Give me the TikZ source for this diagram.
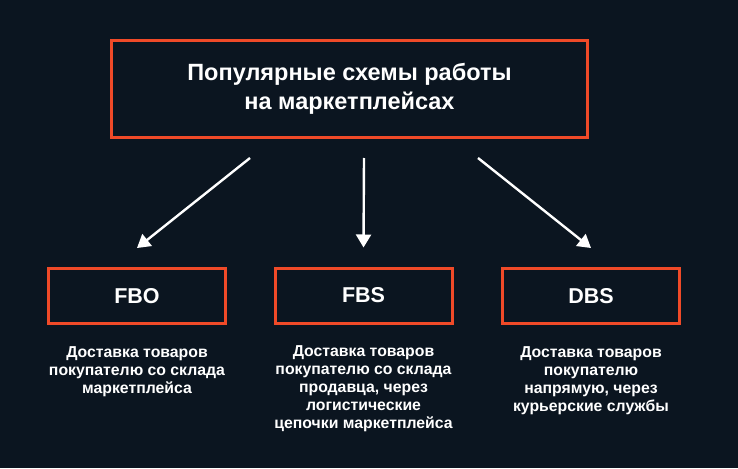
\documentclass[tikz,border=0pt]{standalone}
\usepackage{fontspec}
\setmainfont{Liberation Sans}
\usetikzlibrary{positioning}
\usetikzlibrary{arrows.meta}
\definecolor{NightBg}{HTML}{0B1520}
\definecolor{SchemeRed}{HTML}{F04A28}

\begin{document}
\begin{tikzpicture}[x=1pt,y=-1pt,
    titlebox/.style={draw=SchemeRed,line width=3pt,minimum width=476pt,
      minimum height=97pt,align=center,text=white,
      font=\fontsize{23.5}{29}\selectfont\bfseries},
    schemebox/.style={draw=SchemeRed,line width=3pt,minimum width=177pt,
      minimum height=55pt,text=white,font=\fontsize{21.5}{24}\selectfont\bfseries},
    note/.style={align=center,inner sep=0pt,text=white,
      font=\fontsize{15.8}{18}\selectfont\bfseries},
    arr/.style={-{Triangle[length=13pt,width=15pt]},draw=white,line width=2.4pt}]
    % page
    \fill[NightBg] (0,0) rectangle (738,468);
    \useasboundingbox (0,0) rectangle (738,468);

    % heading
    \node[titlebox] (title) at (349.5,89)
      {Популярные схемы работы\\на маркетплейсах};

    % the three schemes
    \node[schemebox] (fbo) at (137,296) {FBO};
    \node[schemebox] (fbs) at (363.5,295.5) {FBS};
    \node[schemebox] (dbs) at (591,296) {DBS};

    \node[note,below=21pt of fbo] (fbotxt)
      {Доставка товаров\\покупателю со склада\\маркетплейса};
    \node[note,below=21pt of fbs] (fbstxt)
      {Доставка товаров\\покупателю со склада\\продавца, через\\логистические\\цепочки маркетплейса};
    \node[note,below=21pt of dbs] (dbstxt)
      {Доставка товаров\\покупателю\\напрямую, через\\курьерские службы};

    % arrows
    \draw[arr] ([xshift=-99.5pt,yshift=-19pt]title.south) -- ([yshift=19pt]fbo.north);
    \draw[arr] ([xshift=14.5pt,yshift=-19pt]title.south) -- ([yshift=19pt]fbs.north);
    \draw[arr] ([xshift=128.5pt,yshift=-19pt]title.south) -- ([yshift=19pt]dbs.north);
\end{tikzpicture}
\end{document}
